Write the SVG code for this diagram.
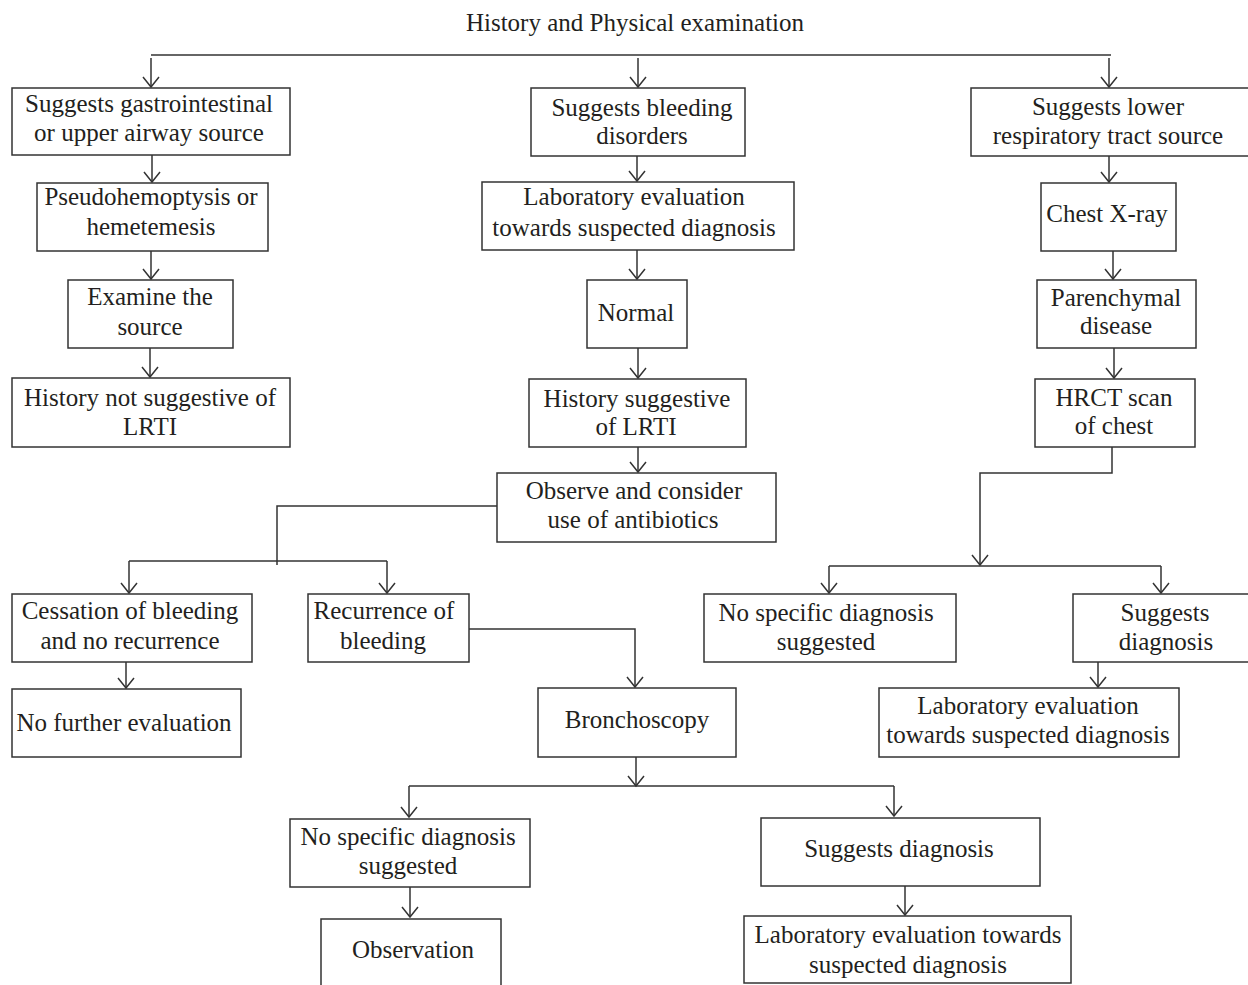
<svg xmlns="http://www.w3.org/2000/svg" width="1248" height="985" viewBox="0 0 1248 985">
<style>
.b{fill:#fff;stroke:#333;stroke-width:1.5}
.t{font-family:"Liberation Serif","Times New Roman",serif;font-size:25px;fill:#231f20;text-anchor:middle}
.c{fill:none;stroke:#333;stroke-width:1.5}
.a{marker-end:url(#ah)}
</style>
<defs>
<marker id="ah" markerUnits="userSpaceOnUse" viewBox="-12 -10 14 20" refX="0" refY="0" markerWidth="14" markerHeight="20" orient="auto">
<path d="M-10,-8 L0,0 L-10,8" fill="none" stroke="#333" stroke-width="1.5"/>
</marker>
</defs>
<rect width="1248" height="985" fill="#fff"/>
<text class="t" x="635" y="31">History and Physical examination</text>
<g id="connectors">
<path class="c" d="M151,55 H1111"/>
<path class="c a" d="M151,58 V87"/>
<path class="c a" d="M638,58 V87"/>
<path class="c a" d="M1109,58 V87"/>
<path class="c a" d="M152,155 V182"/>
<path class="c a" d="M151,251 V279"/>
<path class="c a" d="M150,348 V377"/>
<path class="c a" d="M637,156 V181"/>
<path class="c a" d="M637,250 V279"/>
<path class="c a" d="M638,348 V378"/>
<path class="c a" d="M638,447 V472"/>
<path class="c" d="M497,506 H277 V565"/>
<path class="c" d="M129,561 H387"/>
<path class="c a" d="M129,561 V593"/>
<path class="c a" d="M387,561 V593"/>
<path class="c a" d="M126,662 V688"/>
<path class="c a" d="M469,629 H635 V687"/>
<path class="c a" d="M636,757 V786"/>
<path class="c" d="M409,786 H894"/>
<path class="c a" d="M409,786 V817"/>
<path class="c a" d="M894,786 V816"/>
<path class="c a" d="M410,887 V917"/>
<path class="c a" d="M905,886 V915"/>
<path class="c a" d="M1109,156 V182"/>
<path class="c a" d="M1113,251 V279"/>
<path class="c a" d="M1114,348 V378"/>
<path class="c a" d="M1112,447 V473 H980 V565"/>
<path class="c" d="M829,566 H1161"/>
<path class="c a" d="M829,566 V593"/>
<path class="c a" d="M1161,566 V593"/>
<path class="c a" d="M1098,662 V687"/>
</g>
<g id="n-gi"><rect class="b" x="12" y="88" width="278" height="67"/><text class="t" x="149" y="112">Suggests gastrointestinal</text><text class="t" x="149" y="141">or upper airway source</text></g>
<g id="n-pseudo"><rect class="b" x="37" y="183" width="231" height="68"/><text class="t" x="151" y="205">Pseudohemoptysis or</text><text class="t" x="151" y="235">hemetemesis</text></g>
<g id="n-examine"><rect class="b" x="68" y="280" width="165" height="68"/><text class="t" x="150" y="305">Examine the</text><text class="t" x="150" y="335">source</text></g>
<g id="n-notlrti"><rect class="b" x="12" y="378" width="278" height="69"/><text class="t" x="150" y="406">History not suggestive of</text><text class="t" x="150" y="435">LRTI</text></g>
<g id="n-bleeding"><rect class="b" x="531" y="88" width="214" height="68"/><text class="t" x="642" y="116">Suggests bleeding</text><text class="t" x="642" y="144">disorders</text></g>
<g id="n-lab1"><rect class="b" x="482" y="182" width="312" height="68"/><text class="t" x="634" y="205">Laboratory evaluation</text><text class="t" x="634" y="236">towards suspected diagnosis</text></g>
<g id="n-normal"><rect class="b" x="587" y="280" width="100" height="68"/><text class="t" x="636" y="321">Normal</text></g>
<g id="n-lrti"><rect class="b" x="529" y="379" width="217" height="68"/><text class="t" x="637" y="407">History suggestive</text><text class="t" x="636" y="435">of LRTI</text></g>
<g id="n-observe"><rect class="b" x="497" y="473" width="279" height="69"/><text class="t" x="634" y="499">Observe and consider</text><text class="t" x="633" y="528">use of antibiotics</text></g>
<g id="n-cessation"><rect class="b" x="12" y="594" width="240" height="68"/><text class="t" x="130" y="619">Cessation of bleeding</text><text class="t" x="130" y="649">and no recurrence</text></g>
<g id="n-recurrence"><rect class="b" x="308" y="594" width="161" height="68"/><text class="t" x="384" y="619">Recurrence of</text><text class="t" x="383" y="649">bleeding</text></g>
<g id="n-nofurther"><rect class="b" x="12" y="689" width="229" height="68"/><text class="t" x="124" y="731">No further evaluation</text></g>
<g id="n-broncho"><rect class="b" x="538" y="688" width="198" height="69"/><text class="t" x="637" y="728">Bronchoscopy</text></g>
<g id="n-nospec1"><rect class="b" x="290" y="819" width="240" height="68"/><text class="t" x="408" y="845">No specific diagnosis</text><text class="t" x="408" y="874">suggested</text></g>
<g id="n-observation"><rect class="b" x="321" y="919" width="180" height="80"/><text class="t" x="413" y="958">Observation</text></g>
<g id="n-sugdiag1"><rect class="b" x="761" y="818" width="279" height="68"/><text class="t" x="899" y="857">Suggests diagnosis</text></g>
<g id="n-lab3"><rect class="b" x="744" y="916" width="327" height="67"/><text class="t" x="908" y="943">Laboratory evaluation towards</text><text class="t" x="908" y="973">suspected diagnosis</text></g>
<g id="n-lower"><rect class="b" x="971" y="88" width="290" height="68"/><text class="t" x="1108" y="115">Suggests lower</text><text class="t" x="1108" y="144">respiratory tract source</text></g>
<g id="n-cxr"><rect class="b" x="1041" y="183" width="135" height="68"/><text class="t" x="1107" y="222">Chest X-ray</text></g>
<g id="n-paren"><rect class="b" x="1037" y="280" width="159" height="68"/><text class="t" x="1116" y="306">Parenchymal</text><text class="t" x="1116" y="334">disease</text></g>
<g id="n-hrct"><rect class="b" x="1035" y="379" width="160" height="68"/><text class="t" x="1114" y="406">HRCT scan</text><text class="t" x="1114" y="434">of chest</text></g>
<g id="n-nospec2"><rect class="b" x="704" y="594" width="252" height="68"/><text class="t" x="826" y="621">No specific diagnosis</text><text class="t" x="826" y="650">suggested</text></g>
<g id="n-sugdiag2"><rect class="b" x="1073" y="594" width="190" height="68"/><text class="t" x="1165" y="621">Suggests</text><text class="t" x="1166" y="650">diagnosis</text></g>
<g id="n-lab2"><rect class="b" x="879" y="688" width="300" height="69"/><text class="t" x="1028" y="714">Laboratory evaluation</text><text class="t" x="1028" y="743">towards suspected diagnosis</text></g>
</svg>
